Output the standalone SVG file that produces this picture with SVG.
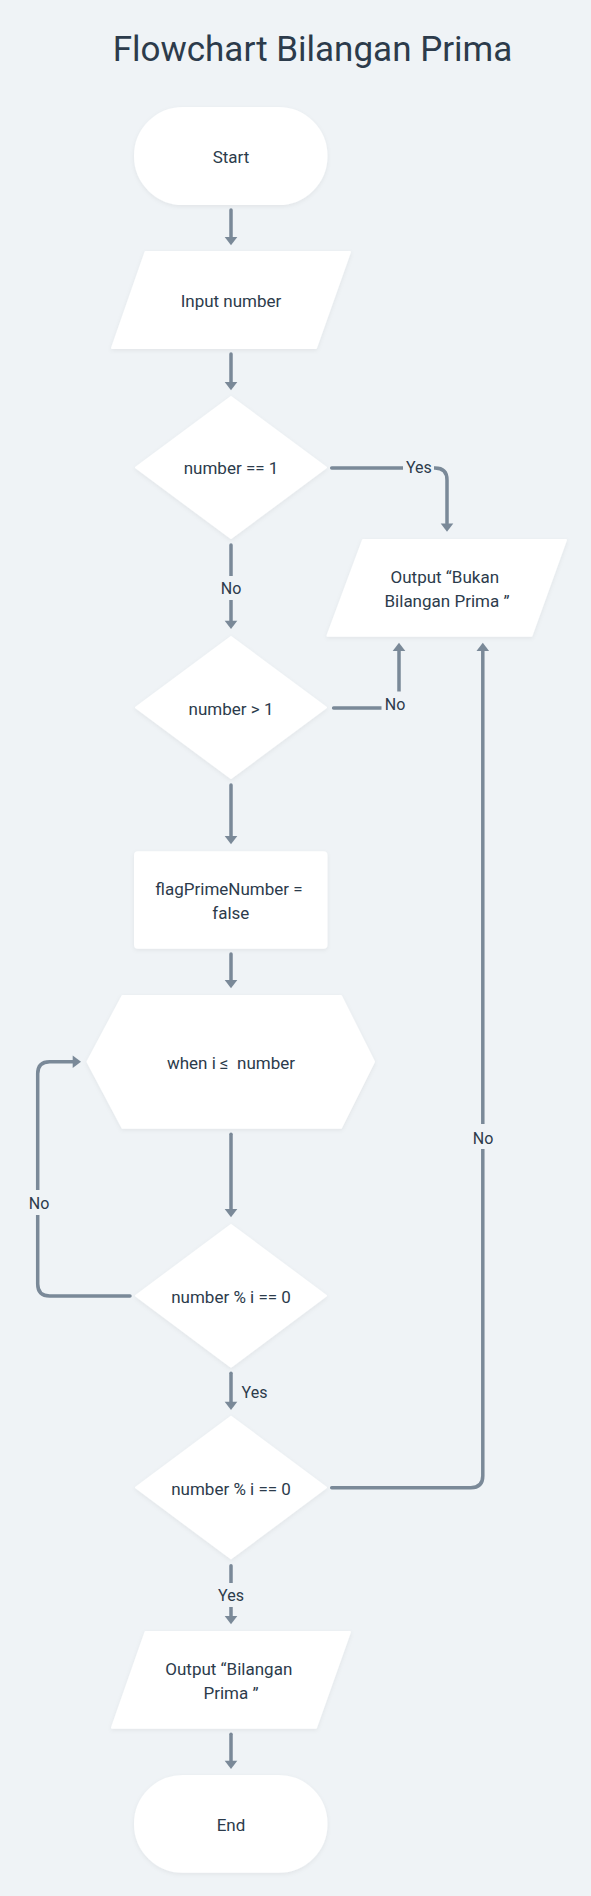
<svg xmlns="http://www.w3.org/2000/svg" width="591" height="1896" viewBox="0 0 591 1896">
<defs>
<style>
.node{fill:#ffffff;filter:url(#sh);stroke:#ffffff;stroke-width:2;stroke-linejoin:round}
.t{font-family:Roboto,"Liberation Sans",sans-serif;font-size:17px;fill:#2c3b4b;text-anchor:middle}
.lbl{font-family:Roboto,"Liberation Sans",sans-serif;font-size:16px;fill:#2c3b4b;text-anchor:middle}
.title{font-family:Roboto,"Liberation Sans",sans-serif;font-size:35px;fill:#2c3b4b;text-anchor:middle}
.c{fill:none;stroke:#7a8998;stroke-width:3.5;stroke-linecap:round;stroke-linejoin:round;marker-end:url(#ah)}
.bg{fill:#eff3f6}
</style>
<filter id="sh" x="-10%" y="-10%" width="120%" height="130%">
<feDropShadow dx="0" dy="1.5" stdDeviation="2" flood-color="#000" flood-opacity="0.06"/>
</filter>
<marker id="ah" markerUnits="userSpaceOnUse" viewBox="-1 -7 10 14" refX="0" refY="0" markerWidth="10" markerHeight="14" orient="auto">
<path d="M0,-6.3 L8.3,0 L0,6.3 z" fill="#7a8998"/>
</marker>
</defs>
<rect width="591" height="1896" fill="#eff3f6"/>
<text class="title" x="312.5" y="61">Flowchart Bilangan Prima</text>

<g id="connectors">
<path class="c" d="M231,210 L231,237"/>
<path class="c" d="M231,354 L231,382"/>
<path class="c" d="M331.7,468 L435,468 Q447,468 447,480 L447,523.4"/>
<path class="c" d="M231,545 L231,620.7"/>
<path class="c" d="M333.6,708 L387,708 Q399,708 399,696 L399,651"/>
<path class="c" d="M231,785 L231,836"/>
<path class="c" d="M231,954 L231,980"/>
<path class="c" d="M231,1134.3 L231,1209"/>
<path class="c" d="M130,1296 L49.7,1296 Q37.7,1296 37.7,1284 L37.7,1073.7 Q37.7,1061.7 49.7,1061.7 L72.7,1061.7"/>
<path class="c" d="M231,1373.3 L231,1401.7"/>
<path class="c" d="M331.7,1487.7 L470.8,1487.7 Q482.8,1487.7 482.8,1475.7 L482.8,651"/>
<path class="c" d="M231,1565.7 L231,1616"/>
<path class="c" d="M231,1734.3 L231,1760.7"/>
<rect class="bg" x="403" y="456" width="31" height="22"/>
<text class="lbl" x="418.8" y="473">Yes</text>
<rect class="bg" x="218" y="576" width="26" height="24"/>
<text class="lbl" x="231" y="594">No</text>
<rect class="bg" x="381.5" y="691.5" width="26" height="24"/>
<text class="lbl" x="395" y="710">No</text>
<rect class="bg" x="26" y="1190" width="26" height="25"/>
<text class="lbl" x="39" y="1209">No</text>
<rect class="bg" x="470" y="1124" width="26" height="25"/>
<text class="lbl" x="483" y="1143.5">No</text>
<text class="lbl" x="254.5" y="1398">Yes</text>
<rect class="bg" x="216" y="1583" width="30" height="24"/>
<text class="lbl" x="231" y="1600.7">Yes</text>
</g>

<g id="start">
<rect class="node" x="135" y="108" width="191.5" height="96" rx="48"/>
<text class="t" x="231" y="163">Start</text>
</g>
<g id="input">
<polygon class="node" points="145.5,252 350,252 316,348 112,348"/>
<text class="t" x="231" y="307">Input number</text>
</g>
<g id="dec1">
<polygon class="node" points="231,397 326,467.5 231,538 136,467.5"/>
<text class="t" x="231" y="474">number == 1</text>
</g>
<g id="outBukan">
<polygon class="node" points="363,540 566,540 531.5,635.7 327.5,635.7"/>
<text class="t" x="444.8" y="583">Output “Bukan</text>
<text class="t" x="447" y="607">Bilangan Prima ”</text>
</g>
<g id="dec2">
<polygon class="node" points="231,637 326,707.5 231,778 136,707.5"/>
<text class="t" x="231" y="715">number &gt; 1</text>
</g>
<g id="flag">
<rect class="node" x="135" y="852.3" width="191.5" height="95.4" rx="3"/>
<text class="t" x="229" y="895.3">flagPrimeNumber =</text>
<text class="t" x="230.8" y="919.3">false</text>
</g>
<g id="loop">
<polygon class="node" points="122.5,996 341,996 374,1061.7 341,1127.7 122.5,1127.7 87.5,1061.7"/>
<text class="t" x="231" y="1069" xml:space="preserve">when i ≤  number</text>
</g>
<g id="dec3">
<polygon class="node" points="231,1225 326,1295.8 231,1366.6 136,1295.8"/>
<text class="t" x="231" y="1302.5">number % i == 0</text>
</g>
<g id="dec4">
<polygon class="node" points="231,1416.7 326,1487.5 231,1558.3 136,1487.5"/>
<text class="t" x="231" y="1495">number % i == 0</text>
</g>
<g id="outPrima">
<polygon class="node" points="145.5,1632 350,1632 316,1727.7 112,1727.7"/>
<text class="t" x="228.8" y="1675.3">Output “Bilangan</text>
<text class="t" x="231" y="1699.3">Prima ”</text>
</g>
<g id="end">
<rect class="node" x="135" y="1776" width="191.5" height="95.7" rx="47.8"/>
<text class="t" x="231" y="1831">End</text>
</g>
</svg>
